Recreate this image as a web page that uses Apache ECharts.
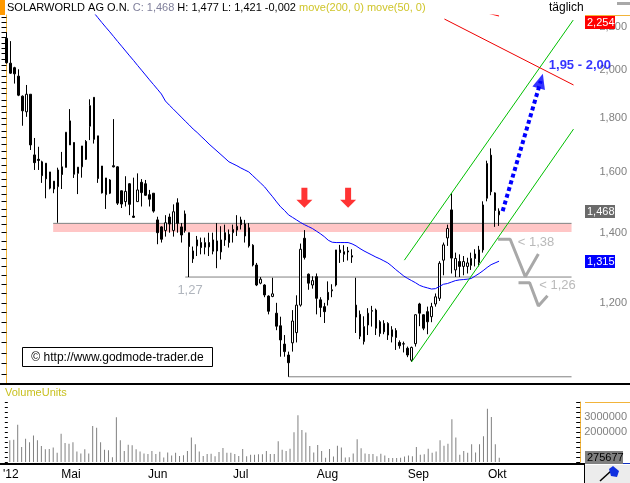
<!DOCTYPE html>
<html>
<head>
<meta charset="utf-8">
<script src="https://cdn.jsdelivr.net/npm/echarts@6.0.0/dist/echarts.min.js"></script>
<style>
html,body{margin:0;padding:0;background:#ffffff;}
#chart{width:630px;height:483px;}
</style>
</head>
<body>
<div id="chart"></div>
<script>
// ---------------- DATA ----------------
const monthLabels = ["'12", "Mai", "Jun", "Jul", "Aug", "Sep", "Okt"];
const monthIndex  = [0, 16, 38, 59, 81, 104, 124];

const open = [
 2.146,2.032,2.012,1.975,1.890,1.826,1.898,1.661,1.645,1.636,
 1.631,1.600,1.568,1.549,1.618,1.616,1.790,1.707,1.595,1.618,
 1.711,1.769,1.885,1.732,1.621,1.522,1.572,1.622,1.618,1.535,
 1.499,1.559,1.452,1.499,1.564,1.559,1.522,1.527,1.440,1.418,
 1.407,1.449,1.407,1.495,1.418,1.459,1.400,1.345,1.360,1.370,
 1.356,1.370,1.344,1.375,1.342,1.400,1.395,1.400,1.408,1.440,
 1.427,1.415,1.362,1.304,1.253,1.248,1.218,1.217,1.173,1.141,
 1.096,1.070,1.099,1.124,1.194,1.383,1.278,1.248,1.271,1.208,
 1.190,1.228,1.232,1.248,1.348,1.335,1.345,1.331,1.194,1.170,
 1.102,1.143,1.178,1.181,1.151,1.147,1.147,1.114,1.129,1.100,
 1.096,1.086,1.058,1.097,1.197,1.169,1.177,1.164,1.197,1.212,
 1.318,1.384,1.472,1.290,1.314,1.300,1.300,1.303,1.336,1.311,
 1.348,1.510,1.660,1.528,1.456];
const close = [
 2.034,1.988,1.985,1.894,1.830,1.898,1.698,1.633,1.641,1.587,
 1.576,1.544,1.541,1.607,1.591,1.746,1.698,1.592,1.617,1.694,
 1.645,1.851,1.719,1.577,1.528,1.579,1.527,1.618,1.494,1.491,
 1.533,1.490,1.448,1.538,1.529,1.520,1.507,1.468,1.400,1.380,
 1.431,1.427,1.466,1.429,1.393,1.407,1.358,1.322,1.378,1.355,
 1.370,1.357,1.378,1.345,1.378,1.378,1.370,1.410,1.420,1.425,
 1.390,1.360,1.304,1.248,1.264,1.221,1.178,1.224,1.140,1.106,
 1.078,1.052,1.153,1.194,1.350,1.326,1.253,1.260,1.212,1.188,
 1.177,1.208,1.235,1.348,1.340,1.343,1.342,1.327,1.163,1.115,
 1.139,1.173,1.180,1.135,1.122,1.126,1.118,1.131,1.112,1.092,
 1.097,1.070,1.088,1.169,1.173,1.135,1.151,1.190,1.216,1.309,
 1.363,1.413,1.324,1.323,1.300,1.314,1.310,1.323,1.323,1.348,
 1.488,1.630,1.532,1.470,1.468];
const high = [
 2.175,2.133,2.016,2.005,1.893,1.937,1.898,1.724,1.691,1.640,
 1.631,1.600,1.568,1.615,1.672,1.746,1.837,1.707,1.617,1.694,
 1.716,1.877,1.885,1.732,1.621,1.579,1.575,1.797,1.620,1.536,
 1.585,1.561,1.580,1.595,1.575,1.572,1.538,1.527,1.450,1.420,
 1.455,1.460,1.490,1.510,1.430,1.470,1.400,1.358,1.390,1.385,
 1.385,1.400,1.400,1.430,1.420,1.425,1.410,1.425,1.455,1.450,
 1.440,1.430,1.365,1.310,1.270,1.250,1.220,1.268,1.200,1.164,
 1.118,1.078,1.181,1.220,1.367,1.408,1.280,1.272,1.280,1.215,
 1.200,1.258,1.250,1.348,1.363,1.362,1.357,1.350,1.268,1.180,
 1.165,1.186,1.192,1.185,1.155,1.155,1.150,1.140,1.135,1.105,
 1.102,1.090,1.090,1.170,1.200,1.170,1.190,1.200,1.225,1.315,
 1.370,1.425,1.527,1.340,1.335,1.330,1.325,1.340,1.350,1.360,
 1.500,1.640,1.685,1.530,1.477];
const low = [
 2.030,1.985,1.943,1.890,1.771,1.806,1.679,1.607,1.607,1.562,
 1.510,1.540,1.527,1.431,1.541,1.616,1.698,1.579,1.524,1.580,
 1.643,1.716,1.703,1.562,1.526,1.475,1.524,1.616,1.488,1.478,
 1.483,1.455,1.446,1.499,1.483,1.518,1.483,1.463,1.365,1.370,
 1.388,1.400,1.388,1.400,1.370,1.400,1.270,1.310,1.330,1.335,
 1.335,1.330,1.335,1.295,1.320,1.360,1.355,1.370,1.390,1.410,
 1.370,1.355,1.300,1.245,1.250,1.215,1.170,1.215,1.130,1.066,
 1.066,1.020,1.078,1.100,1.190,1.320,1.235,1.238,1.170,1.163,
 1.148,1.193,1.215,1.244,1.310,1.313,1.317,1.310,1.123,1.108,
 1.095,1.118,1.139,1.118,1.114,1.120,1.106,1.100,1.082,1.085,
 1.076,1.065,1.054,1.090,1.140,1.130,1.120,1.150,1.190,1.205,
 1.275,1.360,1.280,1.270,1.270,1.275,1.280,1.290,1.300,1.300,
 1.340,1.500,1.520,1.418,1.421];
const volume = [
 1450000,1490000,2490000,1000000,1550000,1320000,1770000,1450000,1060000,850000,
 870000,960000,620000,1890000,1260000,1210000,1320000,700000,570000,850000,
 570000,2400000,2280000,1320000,810000,790000,320000,2980000,1450000,740000,
 1150000,1110000,850000,700000,570000,530000,740000,530000,680000,300000,
 640000,430000,620000,400000,450000,740000,1640000,1190000,700000,400000,
 530000,550000,380000,660000,940000,620000,620000,530000,400000,870000,
 380000,490000,490000,510000,510000,740000,530000,530000,1380000,810000,
 740000,890000,1980000,3110000,2130000,1960000,1060000,640000,1130000,740000,
 280000,870000,360000,1090000,960000,300000,320000,570000,1510000,910000,
 570000,530000,530000,380000,550000,430000,260000,260000,260000,280000,
 360000,430000,380000,1000000,490000,510000,890000,620000,700000,1450000,
 1090000,1210000,2850000,1640000,490000,740000,620000,1190000,640000,1190000,
 1720000,3550000,3000000,1190000,275677];
const ma50 = [
 null,null,null,null,null,null,null,null,null,null,
 null,null,null,null,null,null,null,null,null,null,
 null,null,2.270,2.246,2.222,2.199,2.177,2.154,2.131,2.109,
 2.087,2.065,2.044,2.022,2.001,1.980,1.959,1.939,1.919,1.899,
 1.870,1.853,1.837,1.821,1.805,1.789,1.774,1.758,1.745,1.730,
 1.716,1.701,1.688,1.675,1.662,1.649,1.636,1.629,1.622,1.614,
 1.607,1.600,1.587,1.574,1.561,1.548,1.531,1.515,1.498,1.482,
 1.470,1.456,1.448,1.440,1.432,1.425,1.419,1.413,1.405,1.397,
 1.388,1.377,1.371,1.370,1.370,1.370,1.370,1.366,1.360,1.352,
 1.345,1.339,1.333,1.327,1.322,1.316,1.310,1.301,1.291,1.282,
 1.273,1.266,1.260,1.254,1.247,1.243,1.240,1.237,1.238,1.244,
 1.250,1.252,1.256,1.260,1.262,1.263,1.264,1.266,1.273,1.280,
 1.288,1.297,1.305,1.310,1.315];
const ma200Start = 110;
const ma200 = [2.330,2.324,2.318,2.312,2.306,2.300,2.294,2.289,2.284,2.279,2.274,2.269,2.264,2.259,2.254];

const priceLabels  = [1.2, 1.4, 1.6, 1.8, 2.0, 2.2];
const volumeLabels = [2000000, 3000000];
const lastClose = 1.468, lastMa50 = 1.315, lastMa200 = 2.254, lastVolume = 275677;

// drawn annotations: [bar index, price]
const channelUpper = [[100.17, 1.318], [142.67, 2.234]];
const channelLower = [[102, 1.054], [142.75, 1.758]];
const redTrend     = [[110.25, 2.239], [142.75, 1.937]];
const resistance   = [[11.75, 1.429], [142.25, 1.429]];
const zoneBand     = [1.402, 1.428];
const support127   = [[45, 1.27], [142.25, 1.27]];
const lowLine      = [[71, 1.02], [142.25, 1.02]];
const check138     = [[123.75, 1.380], [126.8, 1.380], [130.6, 1.271], [133.9, 1.336]];
const check126     = [[128.9, 1.254], [131.7, 1.254], [133.9, 1.192], [136.2, 1.219]];
const targetArrow  = [[124.9, 1.468], [134.5, 1.954]];
const redArrows    = [[75, 1.512], [86, 1.512]];
const notes = [
  {at: [42.9, 1.234], text: '1,27', kind: 'gray127'},
  {at: [128.6, 1.369], text: '< 1,38', kind: 'gray'},
  {at: [134.0, 1.248], text: '< 1,26', kind: 'gray'},
  {at: [136.4, 2.020], text: '1,95 - 2,00', kind: 'blue'}
];

// ---------------- CHART ----------------
const FONT = '"Liberation Sans", Arial, sans-serif';
const ORANGE = '#f2b43a';
const L = Math.log;
const NCAT = 145;
const LNMIN = L(1.00396), LNMAX = L(2.259);
const cats = Array.from({length: NCAT}, (_, i) => String(i));
const fmt3 = v => v.toFixed(3).replace('.', ',');
const priceTickLn = [];
for (let k = 40; k <= 90; k++) priceTickLn.push(L(k * 0.025));
const volTick = [];
for (let k = 0; k <= 12; k++) volTick.push(k * 1000000 / 3);

const ohlc = open.map((o, i) => [L(o), L(close[i]), L(low[i]), L(high[i])]);
const toXY = arr => arr.map(p => [p[0], L(p[1])]);
const ma200Pts = ma200.map((v, k) => [ma200Start + k, v]);

function overlayLine(pts, color, width, extra) {
  return Object.assign({
    type: 'line', xAxisIndex: 2, yAxisIndex: 0, data: toXY(pts),
    symbol: 'none', silent: true, z: 3,
    lineStyle: {color: color, width: width}
  }, extra || {});
}

const noteStyles = {
  gray127: {color: '#9ca2ad', fontSize: 13, fontWeight: 'normal'},
  gray: {color: '#a8a8a8', fontSize: 13, fontWeight: 'normal'},
  blue: {color: '#0000ff', fontSize: 13, fontWeight: 'bold'}
};

const chart = echarts.init(document.getElementById('chart'), null, {renderer: 'canvas', width: 630, height: 483});

const option = {
  animation: false,
  backgroundColor: '#ffffff',
  textStyle: {fontFamily: FONT},
  grid: [
    {left: 4.5, top: 15, width: 580, height: 369},
    {left: 4.5, top: 402, width: 580, height: 60}
  ],
  xAxis: [
    {type: 'category', gridIndex: 0, data: cats, show: false},
    {type: 'category', gridIndex: 1, data: cats,
     axisLine: {show: false}, axisTick: {show: false}, splitLine: {show: false},
     axisLabel: {
       interval: (i) => monthIndex.indexOf(i) >= 0,
       formatter: (v) => {
         const k = monthIndex.indexOf(Number(v));
         if (k < 0) return '';
         return k === 0 ? '{y|' + monthLabels[k] + '}' : monthLabels[k];
       },
       color: '#000', fontSize: 12, margin: 7, padding: [0, 4, 0, 0],
       rich: {y: {color: '#000', fontSize: 12, padding: [0, 0, 0, 6]}}
     }},
    {type: 'value', gridIndex: 0, min: -0.5, max: NCAT - 0.5, show: false}
  ],
  yAxis: [
    {type: 'value', gridIndex: 0, position: 'right', min: LNMIN, max: LNMAX,
     splitLine: {show: false},
     axisLine: {show: true, lineStyle: {color: ORANGE, width: 1}},
     axisTick: {show: true, inside: true, length: 4, customValues: priceTickLn, lineStyle: {color: '#000'}},
     axisLabel: {customValues: priceLabels.map(L), formatter: v => fmt3(Math.exp(v)),
                 color: '#808080', fontSize: 11, margin: 19}},
    {type: 'value', gridIndex: 0, position: 'left', min: LNMIN, max: LNMAX,
     splitLine: {show: false}, axisLine: {show: false},
     axisTick: {show: true, length: 3, customValues: priceTickLn, lineStyle: {color: '#000'}},
     axisLabel: {show: false}},
    {type: 'value', gridIndex: 1, position: 'right', min: 0, max: 4000000, interval: 1000000,
     splitLine: {show: false},
     axisLine: {show: true, lineStyle: {color: ORANGE, width: 1}},
     axisTick: {show: true, inside: true, length: 4, customValues: volTick, lineStyle: {color: '#000'}},
     axisLabel: {customValues: volumeLabels, formatter: v => String(Math.round(v)),
                 color: '#808080', fontSize: 11, margin: 4}},
    {type: 'value', gridIndex: 1, position: 'left', min: 0, max: 4000000, interval: 1000000,
     splitLine: {show: false}, axisLine: {show: false},
     axisTick: {show: true, length: 3, customValues: volTick, lineStyle: {color: '#000'}},
     axisLabel: {show: false}}
  ],
  series: [
    overlayLine(resistance, '#808080', 1, {
      z: 1,
      markArea: {silent: true, itemStyle: {color: '#ffc6c6'},
        data: [[{coord: [resistance[0][0], L(zoneBand[0])]}, {coord: [resistance[1][0], L(zoneBand[1])]}]]}
    }),
    overlayLine(support127, '#808080', 1, {z: 1}),
    overlayLine(lowLine, '#808080', 1, {z: 1}),
    {type: 'candlestick', xAxisIndex: 0, yAxisIndex: 0, data: ohlc, barWidth: 2, z: 2, silent: true,
     itemStyle: {color: '#ffffff', color0: '#000000', borderColor: '#000000', borderColor0: '#000000',
                 borderColorDoji: '#000000', borderWidth: 1}},
    {type: 'line', xAxisIndex: 0, yAxisIndex: 0, data: ma50.map(v => v == null ? null : L(v)),
     symbol: 'none', silent: true, z: 3, lineStyle: {color: '#0000ff', width: 1}},
    overlayLine(ma200Pts, '#ff0000', 1),
    overlayLine(channelUpper, '#00c000', 1),
    overlayLine(channelLower, '#00c000', 1),
    overlayLine(redTrend, '#ee0000', 1),
    overlayLine(check138, '#a8a8a8', 3),
    overlayLine(check126, '#a8a8a8', 3),
    overlayLine(targetArrow, '#0000ff', 4, {lineStyle: {color: '#0000ff', width: 4, type: [4, 3], cap: 'butt'}}),
    {type: 'scatter', xAxisIndex: 2, yAxisIndex: 0, silent: true, z: 4,
     data: [toXY(targetArrow)[1]], symbol: 'triangle', symbolSize: [13, 15], symbolRotate: -16,
     itemStyle: {color: '#0000ff'}},
    {type: 'scatter', xAxisIndex: 2, yAxisIndex: 0, silent: true, z: 4,
     data: toXY(redArrows), symbol: 'path://M5,0L11,0L11,12L16,12L8,20L0,12L5,12Z',
     symbolSize: [16, 20], symbolKeepAspect: false, itemStyle: {color: '#ff0000'}},
    {type: 'scatter', xAxisIndex: 2, yAxisIndex: 0, silent: true, z: 5,
     symbolSize: 1, itemStyle: {color: 'rgba(0,0,0,0)'},
     data: notes.map(n => ({value: [n.at[0], L(n.at[1])], name: n.text,
       label: Object.assign({show: true, position: 'right', distance: 0, formatter: n.text, fontFamily: FONT}, noteStyles[n.kind])}))},
    {type: 'bar', xAxisIndex: 1, yAxisIndex: 2, data: volume, barWidth: 1, silent: true,
     itemStyle: {color: '#808080'}}
  ]
};
chart.setOption(option);

// axis value boxes and frame decorations
const yPix = v => chart.convertToPixel({yAxisIndex: 0}, L(v));
const vPix = v => chart.convertToPixel({yAxisIndex: 2}, v);
function valueBox(yc, w, text, bg, fg) {
  const y0 = Math.round(yc - 6.5);
  return {type: 'group', z: 100, children: [
    {type: 'rect', z: 100, shape: {x: 585, y: y0, width: w, height: 13}, style: {fill: bg}},
    {type: 'text', z: 101, x: 587, y: y0 + 7, style: {text: text, fill: fg, font: '11px ' + FONT, verticalAlign: 'middle'}}
  ]};
}
const graphics = [
  {type: 'rect', z: 50, shape: {x: 0, y: 0, width: 5, height: 15}, style: {fill: '#ff9900'}},
  {type: 'text', z: 50, x: 7, y: 8, style: {
    text: '{a|SOLARWORLD AG O.N.} {b|C: 1,468} {a|H: 1,477 L: 1,421 -0,002} {c|move(200, 0) move(50, 0)}',
    font: '11px ' + FONT, verticalAlign: 'middle',
    rich: {a: {fill: '#000000', fontSize: 11, fontFamily: FONT}, b: {fill: '#80809c', fontSize: 11, fontFamily: FONT}, c: {fill: '#cfc52a', fontSize: 11, fontFamily: FONT}}}},
  {type: 'text', z: 50, x: 549, y: 8, style: {text: 'täglich', fill: '#000', font: '12px ' + FONT, verticalAlign: 'middle'}},
  {type: 'rect', z: 50, shape: {x: 617, y: 2, width: 13, height: 3}, style: {fill: '#a8a8a8'}},
  {type: 'rect', z: 50, shape: {x: 585, y: 15, width: 45, height: 1}, style: {fill: ORANGE}},
  {type: 'rect', z: 50, shape: {x: 585, y: 402, width: 45, height: 1}, style: {fill: ORANGE}},
  {type: 'rect', z: 50, shape: {x: 0, y: 383, width: 630, height: 2}, style: {fill: '#000'}},
  {type: 'rect', z: 50, shape: {x: 0, y: 463, width: 585, height: 2}, style: {fill: '#000'}},
  {type: 'rect', z: 50, shape: {x: 585, y: 463, width: 45, height: 1}, style: {fill: '#1030c0'}},
  {type: 'rect', z: 50, shape: {x: 585, y: 465, width: 45, height: 18}, style: {fill: '#ececec'}},
  {type: 'rect', z: 50, shape: {x: 584, y: 463, width: 1, height: 20}, style: {fill: '#000'}},
  {type: 'line', z: 51, shape: {x1: 600, y1: 481, x2: 611, y2: 471}, style: {stroke: '#000', lineWidth: 1.5}},
  {type: 'polygon', z: 52, shape: {points: [[609, 469], [613, 466], [619, 471], [617, 477], [611, 476]]}, style: {fill: '#1030e0'}},
  {type: 'rect', z: 50, shape: {x: 22.5, y: 347.5, width: 190, height: 19}, style: {fill: '#fff', stroke: '#000', lineWidth: 1}},
  {type: 'text', z: 51, x: 117.5, y: 357.5, style: {text: '© http://www.godmode-trader.de', fill: '#000', font: '12px ' + FONT, align: 'center', verticalAlign: 'middle'}},
  {type: 'text', z: 50, x: 5, y: 393, style: {text: 'VolumeUnits', fill: '#c8c020', font: '11px ' + FONT, verticalAlign: 'middle'}},
  valueBox(Math.max(yPix(lastMa200), 22.5), 30, fmt3(lastMa200), '#ff0000', '#ffffff'),
  valueBox(yPix(lastClose), 30, fmt3(lastClose), '#6a6a6a', '#ffffff'),
  valueBox(yPix(lastMa50), 30, fmt3(lastMa50), '#0000ff', '#ffffff'),
  valueBox(Math.min(vPix(lastVolume), 457), 38, String(lastVolume), '#808080', '#000000')
];
chart.setOption({graphic: graphics});
</script>
</body>
</html>
